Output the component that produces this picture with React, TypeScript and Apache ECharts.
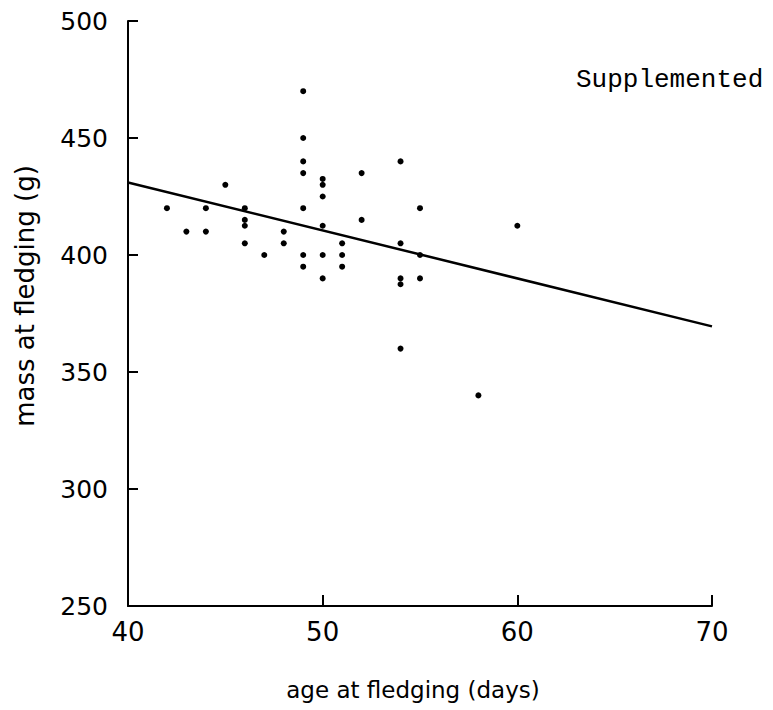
import React, { useEffect, useRef } from "react";
import * as echarts from "echarts";

const ageDays = [42, 43, 44, 44, 45, 46, 46, 46, 46, 47, 48, 48, 49, 49, 49, 49, 49, 49, 49, 50, 50, 50, 50, 50, 50, 51, 51, 51, 52, 52, 54, 54, 54, 54, 54, 55, 55, 55, 58, 60];
const massG = [420, 410, 420, 410, 430, 420, 415, 412.5, 405, 400, 410, 405, 470, 450, 440, 435, 420, 400, 395, 432.5, 430, 425, 412.5, 400, 390, 405, 400, 395, 435, 415, 440, 405, 390, 387.5, 360, 420, 400, 390, 340, 412.5];

// Fitted regression line end points
const fitDays = [40, 70];
const fitMass = [431, 369.5];

// Axis ticks
const xTicks = [40, 50, 60, 70];
const yTicks = [250, 300, 350, 400, 450, 500];

const panelLabel = "Supplemented";
const xTitle = "age at fledging (days)";
const yTitle = "mass at fledging (g)";

export default function App() {
  const ref = useRef<HTMLDivElement>(null);
  useEffect(() => {
    if (!ref.current) return;
    const chart = echarts.init(ref.current, null, { renderer: "svg" });
    const points = ageDays.map((d, i) => [d, massG[i]]);
    const fit = fitDays.map((d, i) => [d, fitMass[i]]);
    const axisFont = "DejaVu Sans";
    chart.setOption({
      animation: false,
      backgroundColor: "#ffffff",
      grid: { left: 128, right: 61, top: 21, bottom: 104, containLabel: false },
      xAxis: {
        type: "value",
        min: xTicks[0],
        max: xTicks[xTicks.length - 1],
        interval: 10,
        splitLine: { show: false },
        axisLine: { show: true, onZero: false, lineStyle: { color: "#000", width: 2 } },
        axisTick: { show: true, inside: true, length: 11, lineStyle: { color: "#000", width: 2 } },
        axisLabel: { color: "#000", fontSize: 26, fontFamily: axisFont, margin: 13 },
      },
      yAxis: {
        type: "value",
        min: yTicks[0],
        max: yTicks[yTicks.length - 1],
        interval: 50,
        splitLine: { show: false },
        axisLine: { show: true, onZero: false, lineStyle: { color: "#000", width: 2 } },
        axisTick: { show: true, inside: true, length: 10, lineStyle: { color: "#000", width: 2 } },
        axisLabel: { color: "#000", fontSize: 25, fontFamily: axisFont, margin: 20 },
      },
      series: [
        {
          type: "scatter",
          data: points,
          symbol: "circle",
          symbolSize: 6,
          itemStyle: { color: "#000", opacity: 1 },
          z: 3,
        },
        {
          type: "line",
          data: fit,
          showSymbol: false,
          symbol: "none",
          lineStyle: { color: "#000", width: 2.5 },
          z: 2,
        },
      ],
      graphic: [
        {
          type: "text",
          x: 576,
          y: 80,
          style: {
            text: panelLabel,
            font: "26px 'Liberation Mono'",
            fill: "#000",
            textAlign: "left",
            textVerticalAlign: "middle",
            align: "left",
            verticalAlign: "middle",
          },
        },
        {
          type: "text",
          x: 413,
          y: 690,
          style: {
            text: xTitle,
            font: "23px 'DejaVu Sans'",
            fill: "#000",
            textAlign: "center",
            textVerticalAlign: "middle",
            align: "center",
            verticalAlign: "middle",
          },
        },
        {
          type: "text",
          x: 25,
          y: 296,
          rotation: Math.PI / 2,
          style: {
            text: yTitle,
            font: "26px 'DejaVu Sans'",
            fill: "#000",
            textAlign: "center",
            textVerticalAlign: "middle",
            align: "center",
            verticalAlign: "middle",
          },
        },
      ],
    });
    return () => chart.dispose();
  }, []);
  return (
    <div
      ref={ref}
      style={{ position: "absolute", left: 0, top: 0, width: 773, height: 710, background: "#fff" }}
    />
  );
}
